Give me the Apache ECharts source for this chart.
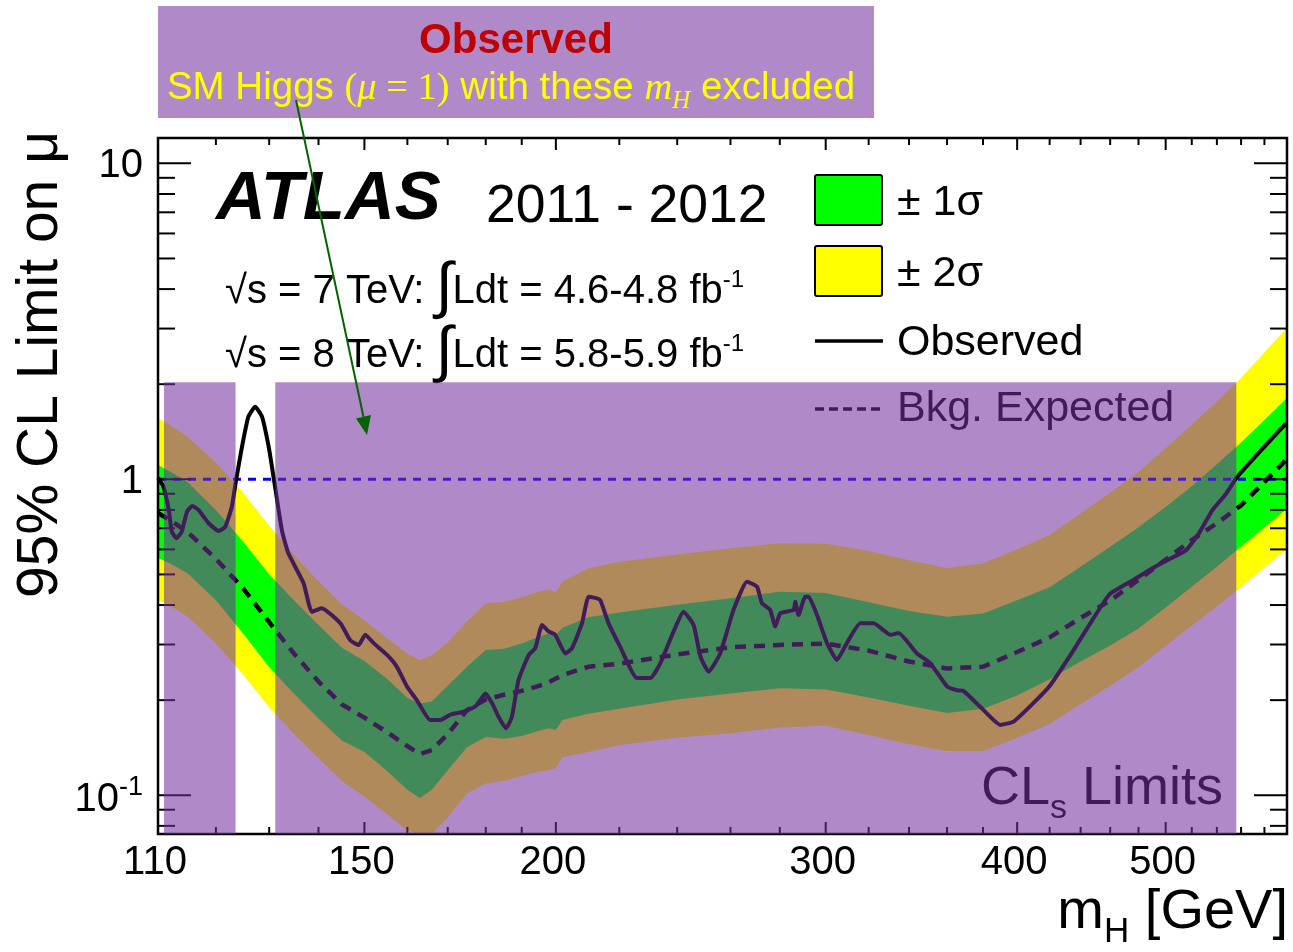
<!DOCTYPE html>
<html>
<head>
<meta charset="utf-8">
<script src="https://cdn.jsdelivr.net/npm/echarts@6/dist/echarts.min.js"></script>
<style>
html,body{margin:0;padding:0;background:#ffffff;}
#chart{width:1293px;height:952px;}
</style>
</head>
<body>
<div id="chart"></div>
<script>
// ---------------- data ----------------
const bandMass = [110,112,115,120,125,130,135,140,145,150,155,160,163,166,170,175,180,185,190,195,198,200,202,210,220,240,260,280,300,320,340,360,380,400,420,440,460,480,500,520,540,560,580,600];
const expected = [0.782,0.743,0.681,0.560,0.452,0.353,0.280,0.229,0.194,0.176,0.159,0.143,0.135,0.139,0.156,0.186,0.201,0.208,0.214,0.222,0.228,0.234,0.240,0.255,0.261,0.279,0.294,0.299,0.302,0.287,0.265,0.252,0.255,0.284,0.316,0.364,0.413,0.481,0.557,0.642,0.726,0.827,0.981,1.158];
const plus1 = [1.110,1.059,0.981,0.799,0.636,0.501,0.413,0.346,0.293,0.266,0.235,0.203,0.195,0.198,0.222,0.255,0.288,0.291,0.302,0.318,0.325,0.322,0.339,0.366,0.379,0.401,0.420,0.441,0.437,0.408,0.383,0.367,0.376,0.414,0.455,0.529,0.612,0.705,0.817,0.950,1.116,1.308,1.542,1.808];
const minus1 = [0.564,0.541,0.504,0.414,0.325,0.254,0.209,0.175,0.149,0.137,0.120,0.104,0.098,0.104,0.120,0.142,0.153,0.151,0.154,0.160,0.163,0.161,0.173,0.181,0.188,0.201,0.210,0.218,0.216,0.204,0.192,0.182,0.188,0.207,0.233,0.265,0.298,0.337,0.393,0.457,0.529,0.612,0.704,0.808];
const plus2 = [1.563,1.485,1.364,1.129,0.906,0.713,0.575,0.475,0.402,0.358,0.315,0.281,0.268,0.277,0.305,0.355,0.405,0.409,0.423,0.442,0.447,0.440,0.475,0.523,0.548,0.578,0.605,0.627,0.625,0.593,0.554,0.524,0.541,0.601,0.666,0.779,0.906,1.054,1.255,1.489,1.763,2.094,2.521,3.018];
const minus2 = [0.415,0.397,0.368,0.303,0.241,0.190,0.156,0.131,0.111,0.099,0.0875,0.0772,0.0716,0.0747,0.0851,0.1015,0.109,0.111,0.115,0.119,0.120,0.122,0.132,0.137,0.144,0.152,0.157,0.164,0.166,0.155,0.145,0.138,0.138,0.152,0.168,0.194,0.222,0.254,0.297,0.344,0.396,0.456,0.525,0.602];

const obsMass = [110.0,110.9,111.8,112.3,113.1,114.0,114.9,115.8,116.9,118.7,120.5,121.7,122.9,123.7,124.8,126.0,127.3,128.6,129.9,130.9,132.5,133.8,136.9,138.6,140.7,144.7,146.8,148.7,150.2,152.1,155.2,157.5,159.9,162.3,165.6,168.1,170.7,174.1,177.2,178.5,179.9,181.7,183.5,185.6,187.2,189.1,192.0,193.9,195.9,197.8,199.8,202.9,204.9,208.0,210.1,212.7,213.8,216.5,220.3,225.9,230.5,234.0,238.7,242.3,246.0,248.5,251.6,256.0,261.2,266.5,270.6,272.6,276.0,278.1,280.2,285.9,286.6,288.0,290.9,292.4,296.1,300.6,305.1,309.7,316.0,322.4,330.6,334.7,344.1,351.0,360.0,365.4,369.0,380.3,390.0,397.8,410.0,420.4,435.2,448.4,459.7,476.0,490.4,505.2,515.4,525.8,536.3,547.1,556.7,598.4,600.0];
const observed = [1.01,0.948,0.800,0.683,0.651,0.683,0.790,0.823,0.800,0.726,0.686,0.708,0.819,0.995,1.268,1.578,1.697,1.578,1.268,1.007,0.691,0.583,0.469,0.381,0.391,0.350,0.310,0.299,0.322,0.303,0.278,0.255,0.221,0.200,0.173,0.173,0.180,0.184,0.191,0.200,0.210,0.196,0.177,0.163,0.177,0.232,0.278,0.292,0.346,0.330,0.322,0.281,0.292,0.350,0.425,0.420,0.415,0.350,0.295,0.235,0.235,0.262,0.330,0.381,0.346,0.275,0.246,0.281,0.386,0.474,0.457,0.405,0.386,0.342,0.377,0.386,0.410,0.372,0.425,0.425,0.372,0.303,0.268,0.303,0.350,0.350,0.322,0.326,0.281,0.262,0.221,0.215,0.214,0.186,0.167,0.171,0.196,0.223,0.287,0.362,0.433,0.479,0.524,0.566,0.595,0.676,0.798,0.895,1.017,1.492,1.500];

const excludedRanges = [[111.0,123.6],[131.2,556.0]];
const excludedTop = 2.03;
const smReference = 1;

const xMajorTicks = [110,150,200,300,400,500];
const xTickLabels = ['110','150','200','300','400','500'];
const xMinorTicks = [120,130,140,160,170,180,190,220,240,260,280,320,340,360,380,420,440,460,480,520,540,560,580];
const yMajorTicks = [0.1,1,10];
const yTickLabels = [['10','-1'],['1',''],['10','']];
const yMinorTicks = [0.08,0.09,0.2,0.3,0.4,0.5,0.6,0.7,0.8,0.9,2,3,4,5,6,7,8,9];

const X_MIN = 110, X_MAX = 600, Y_MIN = 0.0754, Y_MAX = 12.03;

// ---------------- helpers ----------------
const FONT = "'Liberation Sans', Arial, Helvetica, sans-serif";
const SERIF = "'Liberation Serif', 'DejaVu Serif', serif";
const mctx = document.createElement('canvas').getContext('2d');
function fontCss(p){ return (p.style||'normal')+' '+(p.weight||'normal')+' '+p.size+'px '+(p.family||FONT); }
function run(parts, x, baseline, align, z){
  const w = parts.map(p => { mctx.font = fontCss(p); return mctx.measureText(p.t).width; });
  const total = w.reduce((a,b)=>a+b,0);
  let cx = align==='center' ? x-total/2 : (align==='right' ? x-total : x);
  const out = [];
  parts.forEach((p,i) => {
    const el = {type:'text', x:cx, y: baseline + (p.dy||0) - 0.35*p.size, silent:true,
      style:{text:p.t, fill:p.color||'#000', fontSize:p.size, fontFamily:p.family||FONT,
             fontWeight:p.weight||'normal', fontStyle:p.style||'normal', align:'left', verticalAlign:'middle'}};
    if (z !== undefined) el.z = z;
    out.push(el);
    cx += w[i];
  });
  return out;
}
const zip = (a,b) => a.map((v,i)=>[v,b[i]]);

function bandRender(upper, lower, color){
  return function(params, api){
    const cs = params.coordSys;
    const T = cs.y, B = cs.y + cs.height;
    const clampY = y => Math.max(T, Math.min(B, y));
    const pts = [];
    for (let i=0;i<bandMass.length;i++){ const p = api.coord([bandMass[i], upper[i]]); pts.push([p[0], clampY(p[1])]); }
    for (let i=bandMass.length-1;i>=0;i--){ const p = api.coord([bandMass[i], lower[i]]); pts.push([p[0], clampY(p[1])]); }
    return {type:'polygon', shape:{points:pts}, style:{fill:color}};
  };
}

function renderAxes(params, api){
  const cs = params.coordSys;
  const L = cs.x, T = cs.y, R = cs.x + cs.width, B = cs.y + cs.height;
  const ch = [];
  const ln = (x1,y1,x2,y2) => ({type:'line', shape:{x1,y1,x2,y2}, style:{stroke:'#000', lineWidth:2}});
  ch.push({type:'rect', shape:{x:L, y:T, width:R-L, height:B-T}, style:{fill:'none', stroke:'#000', lineWidth:2.5}});
  xMajorTicks.forEach((v,i) => {
    const x = api.coord([v,1])[0];
    ch.push(ln(x,B,x,B-12), ln(x,T,x,T+12));
    run([{t:xTickLabels[i], size:40}], x-3, B+43, 'center').forEach(e=>ch.push(e));
  });
  xMinorTicks.forEach(v => { const x = api.coord([v,1])[0]; ch.push(ln(x,B,x,B-7), ln(x,T,x,T+7)); });
  yMajorTicks.forEach((v,i) => {
    const y = api.coord([X_MIN, v])[1];
    ch.push(ln(L,y,L+33,y), ln(R,y,R-33,y));
    const lab = yTickLabels[i];
    const parts = [{t:lab[0], size:40}];
    if (lab[1]) parts.push({t:lab[1], size:27, dy:-17});
    run(parts, L-15, y + (lab[1] ? 19 : 17), 'right').forEach(e=>ch.push(e));
  });
  yMinorTicks.forEach(v => { const y = api.coord([X_MIN, v])[1]; ch.push(ln(L,y,L+17,y), ln(R,y,R-17,y)); });
  return {type:'group', children:ch};
}

function renderOverlay(params, api){
  const cs = params.coordSys;
  const p1 = api.coord([api.value(0), api.value(1)]);
  const p2 = api.coord([api.value(2), Y_MIN]);
  const B = cs.y + cs.height;
  return {type:'rect', shape:{x:p1[0], y:p1[1], width:p2[0]-p1[0], height:B-p1[1]},
          style:{fill:'rgba(116,49,158,0.569)'}};
}

// ---------------- graphic annotations ----------------
const g = [];
// y axis title (rotated)
g.push({type:'text', x:41, y:131, rotation:Math.PI/2, z:7, silent:true,
  style:{text:'95% CL Limit on μ', fill:'#000', fontSize:57, fontFamily:FONT, align:'right', verticalAlign:'middle'}});
// x axis title
run([{t:'m', size:56},{t:'H', size:35, dy:13},{t:' [GeV]', size:56}], 1288, 932, 'right', 7).forEach(e=>g.push(e));
// ATLAS label
run([{t:'ATLAS', size:69, weight:'bold', style:'italic'}], 216, 224, 'left', 7).forEach(e=>g.push(e));
run([{t:'2011 - 2012', size:53.5}], 486, 226, 'left', 7).forEach(e=>g.push(e));
run([{t:'√s = 7 TeV: ', size:40},{t:'∫', size:62, dy:5},{t:'Ldt = 4.6-4.8 fb', size:40},{t:'-1', size:24, dy:-17}], 225, 306, 'left', 7).forEach(e=>g.push(e));
run([{t:'√s = 8 TeV: ', size:40},{t:'∫', size:62, dy:5},{t:'Ldt = 5.8-5.9 fb', size:40},{t:'-1', size:24, dy:-17}], 225, 370, 'left', 7).forEach(e=>g.push(e));
// legend
g.push({type:'rect', shape:{x:815, y:175, width:67, height:50, r:2}, z:7, style:{fill:'#00ff00', stroke:'#000', lineWidth:2}});
g.push({type:'rect', shape:{x:815, y:246, width:67, height:50, r:2}, z:7, style:{fill:'#ffff00', stroke:'#000', lineWidth:2}});
g.push({type:'line', shape:{x1:815, y1:341, x2:883, y2:341}, z:7, style:{stroke:'#000', lineWidth:3.5}});
g.push({type:'line', shape:{x1:815, y1:409, x2:883, y2:409}, z:7, style:{stroke:'#000', lineWidth:3.5, lineDash:[9,5]}});
run([{t:'± 1σ', size:43}], 897, 218, 'left', 7).forEach(e=>g.push(e));
run([{t:'± 2σ', size:43}], 897, 289, 'left', 7).forEach(e=>g.push(e));
run([{t:'Observed', size:43}], 897, 358, 'left', 7).forEach(e=>g.push(e));
run([{t:'Bkg. Expected', size:43}], 897, 424, 'left', 7).forEach(e=>g.push(e));
// CLs Limits
run([{t:'CL', size:54},{t:'s', size:34, dy:13},{t:' Limits', size:54}], 1223, 808, 'right', 7).forEach(e=>g.push(e));
// title box
g.push({type:'rect', shape:{x:158, y:6, width:716, height:112}, z:20, style:{fill:'#b08ac8'}});
run([{t:'Observed', size:42, weight:'bold', color:'#c00000'}], 516, 56, 'center', 21).forEach(e=>g.push(e));
run([{t:'SM Higgs ', size:38.5, color:'#ffff00'},
     {t:'(', size:38.5, family:SERIF, color:'#ffff00'},
     {t:'μ', size:38.5, family:SERIF, style:'italic', color:'#ffff00'},
     {t:' = 1)', size:38.5, family:SERIF, color:'#ffff00'},
     {t:' with these ', size:38.5, color:'#ffff00'},
     {t:'m', size:38.5, family:SERIF, style:'italic', color:'#ffff00'},
     {t:'H', size:25, family:SERIF, style:'italic', dy:8, color:'#ffff00'},
     {t:' excluded', size:38.5, color:'#ffff00'}], 511, 102, 'center', 21).forEach(e=>g.push(e));
// arrow
g.push({type:'line', shape:{x1:296, y1:100, x2:363.5, y2:417}, z:22, style:{stroke:'#006400', lineWidth:2}});
g.push({type:'polygon', shape:{points:[[367,435],[356,418.5],[371,415]]}, z:22, style:{fill:'#006400'}});

// ---------------- chart ----------------
const chart = echarts.init(document.getElementById('chart'), null, {renderer:'canvas'});
chart.setOption({
  animation:false,
  backgroundColor:'#ffffff',
  grid:{left:158, top:138, width:1129, height:696, containLabel:false},
  xAxis:{type:'log', logBase:10, min:X_MIN, max:X_MAX,
         axisLine:{show:false}, axisTick:{show:false}, axisLabel:{show:false}, splitLine:{show:false}},
  yAxis:{type:'log', logBase:10, min:Y_MIN, max:Y_MAX,
         axisLine:{show:false}, axisTick:{show:false}, axisLabel:{show:false}, splitLine:{show:false}},
  series:[
    {name:'±2σ', type:'custom', z:1, silent:true, data:[[X_MIN,1]], renderItem:bandRender(plus2, minus2, '#ffff00')},
    {name:'±1σ', type:'custom', z:2, silent:true, data:[[X_MIN,1]], renderItem:bandRender(plus1, minus1, '#00ff00')},
    {name:'SM', type:'line', z:3, silent:true, showSymbol:false, data:[[X_MIN,smReference],[X_MAX,smReference]],
     lineStyle:{color:'#0000ff', width:3, type:[8,7]}},
    {name:'Bkg. Expected', type:'line', z:4, silent:true, showSymbol:false, data:zip(bandMass, expected),
     lineStyle:{color:'#000', width:4.5, type:[11,8]}},
    {name:'Observed', type:'line', z:5, silent:true, showSymbol:false, smooth:0.15, data:zip(obsMass, observed),
     lineStyle:{color:'#000', width:4, join:'round'}},
    {name:'axes', type:'custom', z:6, silent:true, data:[[X_MIN,1]], renderItem:renderAxes},
    {name:'excluded', type:'custom', z:10, silent:true, data:excludedRanges.map(r=>[r[0], excludedTop, r[1]]),
     encode:{x:0, y:1}, renderItem:renderOverlay}
  ],
  graphic:{elements:g}
});
</script>
</body>
</html>
